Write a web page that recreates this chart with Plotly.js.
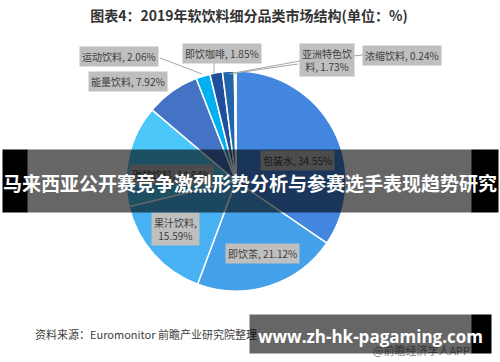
<!DOCTYPE html>
<html><head><meta charset="utf-8">
<script src="https://cdn.plot.ly/plotly-3.0.1.min.js"></script>
<style>html,body{margin:0;padding:0;background:#fff}#chart{width:500px;height:362px}</style>
</head><body><div id="chart"></div>
<script>
// ---- data ----
const categories = ['包装水','即饮茶','果汁饮料','碳酸饮料','能量饮料','运动饮料','即饮咖啡','亚洲特色饮料','浓缩饮料'];
const shares = [34.55, 21.12, 15.59, 14.94, 7.92, 2.06, 1.85, 1.73, 0.24];
const labelTexts = ['包装水, 34.55%','即饮茶, 21.12%','果汁饮料,<br>15.59%','碳酸饮料, 14.94%','能量饮料, 7.92%','运动饮料, 2.06%','即饮咖啡, 1.85%','亚洲特色饮<br>料, 1.73%','浓缩饮料, 0.24%'];
const chartTitle = '图表4：2019年软饮料细分品类市场结构(单位：%)';
const sourceText = '资料来源：Euromonitor 前瞻产业研究院整理';
const bannerText = '马来西亚公开赛竞争激烈形势分析与参赛选手表现趋势研究';
const siteText = 'www.zh-hk-pagaming.com';
const appText = '@前瞻经济学人APP';

// ---- layout helpers (pixel -> paper) ----
const W = 500, H = 362;
const px = x => x / W, py = y => 1 - y / H;
const colors = ['#4286E0','#45A0EA','#48B1F3','#4CC7F9','#4472C4','#00B0F0','#1F4E9C','#2264AA','#5B9BD5'];
const labelPos = [[297,160],[262,253],[175,229],[171,174],[128,81],[119,57],[222,54],[327,60],[402,55]];
const leaders = [
  [[160,58],[202,74]],
  [[214,62],[214,74]],
  [[298,64],[229,74]],
  [[363,55],[300,61],[234,73]]
];
const FONT = '"Noto Sans CJK SC", "Noto Sans", sans-serif';

const shapes = [];
leaders.forEach(pts => {
  for (let i = 0; i < pts.length - 1; i++) {
    shapes.push({type:'line', xref:'paper', yref:'paper',
      x0:px(pts[i][0]), y0:py(pts[i][1]), x1:px(pts[i+1][0]), y1:py(pts[i+1][1]),
      line:{color:'#a6a6a6', width:1}});
  }
});

const annotations = [];
labelTexts.forEach((t, i) => {
  annotations.push({text:t, xref:'paper', yref:'paper', x:px(labelPos[i][0]), y:py(labelPos[i][1]),
    xanchor:'center', yanchor:'middle', showarrow:false, bgcolor:'#bfbfbf', borderpad:2,
    font:{family:FONT, size:10, color:'#404040'}});
});
// source
annotations.push({text:sourceText, xref:'paper', yref:'paper', x:px(33), y:py(334), xanchor:'left', yanchor:'middle',
  showarrow:false, font:{family:FONT, size:11, color:'#404040'}});
annotations.push({text:appText, xref:'paper', yref:'paper', x:px(472), y:py(350), xanchor:'right', yanchor:'middle',
  showarrow:false, font:{family:FONT, size:11, color:'#7f7f7f'}});
// overlay boxes
function box(x0, x1, y0, y1, color) {
  annotations.push({text:' ', xref:'paper', yref:'paper', x:px((x0+x1)/2), y:py((y0+y1)/2),
    xanchor:'center', yanchor:'middle', showarrow:false, width:x1-x0, height:y1-y0, borderpad:0,
    bgcolor:color, font:{size:1}});
}
box(27, 472, 150, 212, 'rgba(0,0,0,0.6)');
box(3, 27, 150, 212, '#000');
box(472, 498, 150, 212, '#000');
box(250, 472, 315, 353, 'rgba(0,0,0,0.6)');
box(472, 491, 315, 353, '#000');
annotations.push({text:'<b>'+bannerText+'</b>', xref:'paper', yref:'paper', x:px(250), y:py(182),
  xanchor:'center', yanchor:'middle', showarrow:false, font:{family:FONT, size:19, color:'#fff'}});
annotations.push({text:'<b>'+siteText+'</b>', xref:'paper', yref:'paper', x:px(370), y:py(336),
  xanchor:'center', yanchor:'middle', showarrow:false, font:{family:'"Open Sans", sans-serif', size:17, color:'#fff'}});

const data = [{
  type:'pie', labels:categories, values:shares, sort:false, direction:'clockwise', rotation:0,
  marker:{colors:colors, line:{color:'#fff', width:1.5}}, textinfo:'none', hoverinfo:'label+percent',
  domain:{x:[px(126), px(346)], y:[py(291), py(71)]}, showlegend:false
}];

const layout = {
  width:W, height:H, margin:{l:0,r:0,t:0,b:0}, paper_bgcolor:'#fff', plot_bgcolor:'#fff',
  showlegend:false,
  title:{text:'<b>'+chartTitle+'</b>', x:px(249), xanchor:'center', y:py(16), yanchor:'middle', yref:'paper',
    font:{family:FONT, size:14, color:'#333'}},
  shapes:shapes, annotations:annotations
};
Plotly.newPlot('chart', data, layout, {displayModeBar:false, staticPlot:true});
</script></body></html>
